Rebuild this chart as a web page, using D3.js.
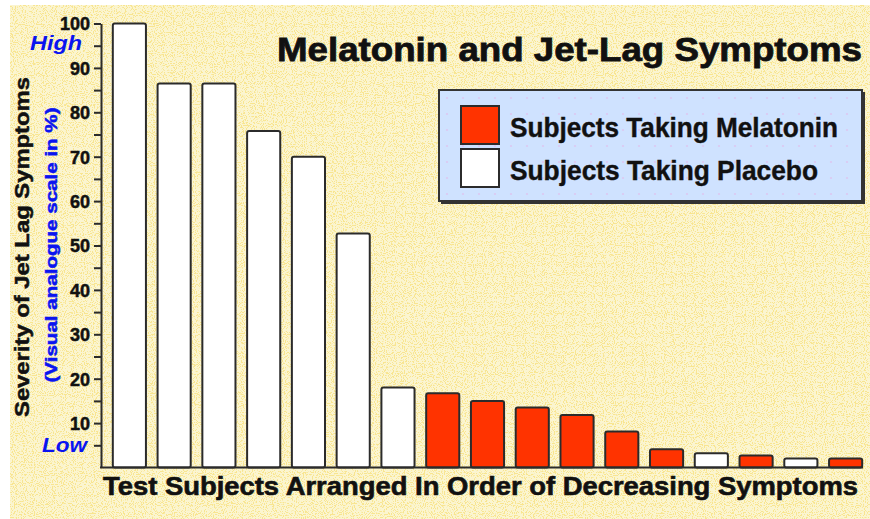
<!DOCTYPE html>
<html lang="en">
	<head>
		<meta charset="utf-8">
		<title>Melatonin and Jet-Lag Symptoms</title>
		<script type="text/javascript" src="https://cdn.jsdelivr.net/npm/d3@7"></script>
		<style type="text/css">
			body{
				margin:0;
				background:#ffffff;
			}
			svg text{
				font-family: "Liberation Sans", Arial, sans-serif;
				font-weight: bold;
			}
		</style>
	</head>
	<body>
		<div id="chart"></div>
		<script type="text/javascript">

			// one bar per test subject, already sorted by decreasing symptoms
			var subjects = d3.range(1, 18)
			var severity = [100, 86.5, 86.5, 75.8, 70, 52.7, 18, 16.7, 15, 13.5, 11.8, 8.1, 4.1, 3.2, 2.7, 2.0, 2.0]
			var treatment = ["Placebo","Placebo","Placebo","Placebo","Placebo","Placebo","Placebo",
				"Melatonin","Melatonin","Melatonin","Melatonin","Melatonin","Melatonin",
				"Placebo","Melatonin","Placebo","Melatonin"]
			var yTicks = d3.range(5, 101, 5)
			var legendLabels = ["Subjects Taking Melatonin", "Subjects Taking Placebo"]
			var legendKeys = ["Melatonin", "Placebo"]

			var w = 870;
			var h = 519;

			var svg = d3.select("#chart")
				.append("svg")
				.attr("width", w)
				.attr("height", h);

			var defs = svg.append("defs")

			// speckled yellow paper
			var speck = defs.append("filter").attr("id","speck")
				.attr("x",0).attr("y",0).attr("width","100%").attr("height","100%")
			speck.append("feTurbulence")
				.attr("type","fractalNoise")
				.attr("baseFrequency","0.9")
				.attr("numOctaves",1)
				.attr("seed",7)
			speck.append("feColorMatrix")
				.attr("type","matrix")
				.attr("values","0 0 0 0 0.94  0 0 0 0 0.78  0 0 0 0 0.28  0 0 0 16 -8.6")

			var dots = defs.append("pattern").attr("id","dots")
				.attr("width",16).attr("height",16)
				.attr("patternUnits","userSpaceOnUse")
			dots.append("rect").attr("width",16).attr("height",16).attr("fill","#cfe2ff")
			dots.append("circle").attr("cx",8).attr("cy",8).attr("r",1.1).attr("fill","#dcc8f2")

			svg.append("rect")
				.attr("x",10).attr("y",5)
				.attr("width",w-10).attr("height",h-5)
				.attr("fill","#fbf5d0")
			svg.append("rect")
				.attr("x",10).attr("y",5)
				.attr("width",w-10).attr("height",h-5)
				.attr("fill","#ffffff")
				.attr("filter","url(#speck)")

			var xScale = d3.scaleBand()
				.domain(subjects)
				.range([107, 868])
				.paddingInner(0.26)
				.paddingOuter(0.13);

			var yScale = d3.scaleLinear()
				.domain([0,100])
				.range([467.5, 23.5]);

			var color = d3.scaleOrdinal()
				.domain(legendKeys)
				.range(["#ff3300", "#ffffff"]);

			// bars
			svg.selectAll(".bar")
				.data(severity)
				.enter()
				.append("rect")
				.attr("class","bar")
				.attr("x", function(d,i){ return xScale(subjects[i]) })
				.attr("y", function(d){ return yScale(d) })
				.attr("width", xScale.bandwidth())
				.attr("height", function(d){ return yScale(0) - yScale(d) })
				.attr("rx", 2)
				.attr("fill", function(d,i){ return color(treatment[i]) })
				.attr("stroke","#2b2b2b")
				.attr("stroke-width",2)

			// y axis
			var yAxis = d3.axisLeft(yScale)
				.tickValues(yTicks)
				.tickSize(7)
				.tickSizeOuter(0)
				.tickPadding(4)
				.tickFormat(function(d){ return d % 10 == 0 ? d : "" })

			var gy = svg.append("g")
				.attr("transform","translate(101,0)")
				.call(yAxis)
			gy.select(".domain").attr("stroke","#2b2b2b").attr("stroke-width",2)
			gy.selectAll(".tick line").attr("stroke","#2b2b2b").attr("stroke-width",2)
			gy.selectAll(".tick text")
				.attr("fill","#111")
				.attr("stroke","#111")
				.attr("stroke-width",0.5)
				.attr("font-size","18px")
				.attr("font-family",null)
				.attr("dy","0.36em")

			// baseline
			svg.append("line")
				.attr("x1",100).attr("x2",863)
				.attr("y1",yScale(0)).attr("y2",yScale(0))
				.attr("stroke","#2b2b2b")
				.attr("stroke-width",2)

			// titles
			svg.append("text")
				.text("Melatonin and Jet-Lag Symptoms")
				.attr("x",277).attr("y",61)
				.attr("font-size","33px")
				.attr("textLength",585)
				.attr("lengthAdjust","spacingAndGlyphs")
				.attr("fill","#111")
				.attr("stroke","#111")
				.attr("stroke-width",0.8)

			svg.append("text")
				.text("Test Subjects Arranged In Order of Decreasing Symptoms")
				.attr("x",103).attr("y",495)
				.attr("font-size","25px")
				.attr("textLength",755)
				.attr("lengthAdjust","spacingAndGlyphs")
				.attr("fill","#111")
				.attr("stroke","#111")
				.attr("stroke-width",0.6)

			svg.append("text")
				.text("Severity of Jet Lag Symptoms")
				.attr("transform","translate(29,247) rotate(-90)")
				.attr("text-anchor","middle")
				.attr("font-size","21px")
				.attr("textLength",340)
				.attr("lengthAdjust","spacingAndGlyphs")
				.attr("fill","#111")
				.attr("stroke","#111")
				.attr("stroke-width",0.5)

			svg.append("text")
				.text("(Visual analogue scale in %)")
				.attr("transform","translate(57,245) rotate(-90)")
				.attr("text-anchor","middle")
				.attr("font-size","16px")
				.attr("textLength",275)
				.attr("lengthAdjust","spacingAndGlyphs")
				.attr("fill","#0a14f0")
				.attr("stroke","#0a14f0")
				.attr("stroke-width",0.5)

			svg.append("text")
				.text("High")
				.attr("x",30).attr("y",50)
				.attr("font-family","'Liberation Serif', serif")
				.attr("font-style","italic")
				.attr("font-size","20px")
				.attr("textLength",52)
				.attr("lengthAdjust","spacingAndGlyphs")
				.attr("fill","#0a14f0")

			svg.append("text")
				.text("Low")
				.attr("x",42).attr("y",452)
				.attr("font-family","'Liberation Serif', serif")
				.attr("font-style","italic")
				.attr("font-size","20px")
				.attr("textLength",45)
				.attr("lengthAdjust","spacingAndGlyphs")
				.attr("fill","#0a14f0")

			// legend
			var legend = svg.append("g").attr("transform","translate(439,90)")
			legend.append("rect")
				.attr("x",2).attr("y",2)
				.attr("width",424).attr("height",112)
				.attr("fill","#333")
			legend.append("rect")
				.attr("width",423).attr("height",111)
				.attr("fill","url(#dots)")
				.attr("stroke","#333")
				.attr("stroke-width",2)

			var legendLengths = [328, 308]
			var items = legend.selectAll(".item")
				.data(legendKeys)
				.enter()
				.append("g")
				.attr("class","item")
				.attr("transform", function(d,i){ return "translate(22," + (16 + i*43) + ")" })
			items.append("rect")
				.attr("width",38).attr("height",38)
				.attr("fill", function(d){ return color(d) })
				.attr("stroke","#2b2b2b")
				.attr("stroke-width",2)
			items.append("text")
				.text(function(d,i){ return legendLabels[i] })
				.attr("x",49).attr("y",31)
				.attr("font-size","27px")
				.attr("textLength", function(d,i){ return legendLengths[i] })
				.attr("lengthAdjust","spacingAndGlyphs")
				.attr("fill","#111")
				.attr("stroke","#111")
				.attr("stroke-width",0.4)

		</script>
	</body>
</html>
